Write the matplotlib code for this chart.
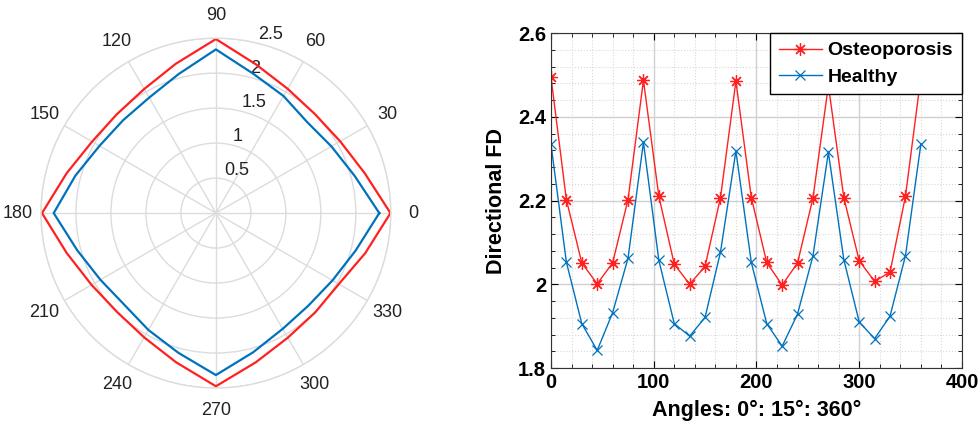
import numpy as np
import matplotlib
matplotlib.use("Agg")
import matplotlib.pyplot as plt
from matplotlib.ticker import MultipleLocator

plt.rcParams['font.family'] = 'Liberation Sans'

# ----------- DATA ------------
angles = [0, 15, 30, 45, 60, 75, 90, 105, 120, 135, 150, 165, 180,
          195, 210, 225, 240, 255, 270, 285, 300, 315, 330, 345, 360]
osteoporosis = [2.495, 2.202, 2.051, 2.001, 2.051, 2.202, 2.487, 2.210, 2.048,
                2.000, 2.043, 2.207, 2.485, 2.207, 2.052, 1.998, 2.051, 2.206,
                2.475, 2.207, 2.056, 2.007, 2.029, 2.210, 2.495]
healthy = [2.335, 2.053, 1.906, 1.842, 1.932, 2.062, 2.339, 2.057, 1.906,
           1.876, 1.921, 2.077, 2.318, 2.052, 1.906, 1.852, 1.929, 2.068,
           2.315, 2.059, 1.910, 1.870, 1.924, 2.068, 2.335]
r_ticks = [0.5, 1, 1.5, 2, 2.5]
theta_ticks = [0, 30, 60, 90, 120, 150, 180, 210, 240, 270, 300, 330]
y_ticks = [1.8, 2.0, 2.2, 2.4, 2.6]
y_labels = ['1.8', '2', '2.2', '2.4', '2.6']
x_ticks = [0, 100, 200, 300, 400]

RED = '#FF2020'
BLUE = '#0072BD'

fig = plt.figure(figsize=(9.8, 4.43), dpi=100)

# ----------- POLAR ------------
axp = fig.add_axes([0.0418, 0.124, 0.357, 0.790], projection='polar')
th = np.deg2rad(angles)
axp.plot(th, osteoporosis, color=RED, lw=1.6)
axp.plot(th, healthy, color=BLUE, lw=1.6)
axp.set_rlim(0, 2.5)
axp.set_rticks(r_ticks)
axp.set_yticklabels(['0.5', '1', '1.5', '2', '2.5'], fontsize=13, color='#222222')
axp.set_rlabel_position(76)
axp.set_thetagrids(theta_ticks, [str(t) for t in theta_ticks], fontsize=13, color='#222222')
axp.tick_params(axis='x', pad=6)
axp.grid(True, color='#dcdcdc', lw=1.0)
axp.spines['polar'].set_color('#dcdcdc')
axp.spines['polar'].set_linewidth(1.0)

# ----------- LINE PLOT ------------
ax = fig.add_axes([0.5622, 0.1693, 0.4194, 0.7562])
ax.plot(angles, osteoporosis, color=RED, lw=1.0, marker=(8, 2, 0), ms=9, mew=0.9,
        label='Osteoporosis')
ax.plot(angles, healthy, color=BLUE, lw=1.0, marker='x', ms=7, mew=0.9, label='Healthy')
ax.set_xlim(0, 400)
ax.set_ylim(1.8, 2.6)
ax.set_xticks(x_ticks)
ax.set_yticks(y_ticks, y_labels)
ax.xaxis.set_minor_locator(MultipleLocator(20))
ax.yaxis.set_minor_locator(MultipleLocator(0.04))
ax.grid(which='major', color='#d0d0d0', lw=1.0)
ax.grid(which='minor', color='#d8d8d8', lw=0.8, ls=':')
ax.tick_params(which='both', direction='in', top=True, right=True, labelsize=14.5)
ax.tick_params(which='major', length=5)
ax.tick_params(which='minor', length=3)
for lbl in ax.get_xticklabels() + ax.get_yticklabels():
    lbl.set_fontweight('bold')
for s in ax.spines.values():
    s.set_color('#333333')
ax.set_xlabel('Angles: 0°: 15°: 360°', fontsize=15.5, fontweight='bold', labelpad=6)
ax.set_ylabel('Directional FD', fontsize=15.5, fontweight='bold', labelpad=8)
leg = ax.legend(loc='upper right', prop={'weight': 'bold', 'size': 14},
                fancybox=False, framealpha=1, edgecolor='black', borderaxespad=0,
                handlelength=2.2, handletextpad=0.3, borderpad=0.45, labelspacing=0.45)
leg.get_frame().set_linewidth(1.0)

fig.savefig('out.png', dpi=100)
